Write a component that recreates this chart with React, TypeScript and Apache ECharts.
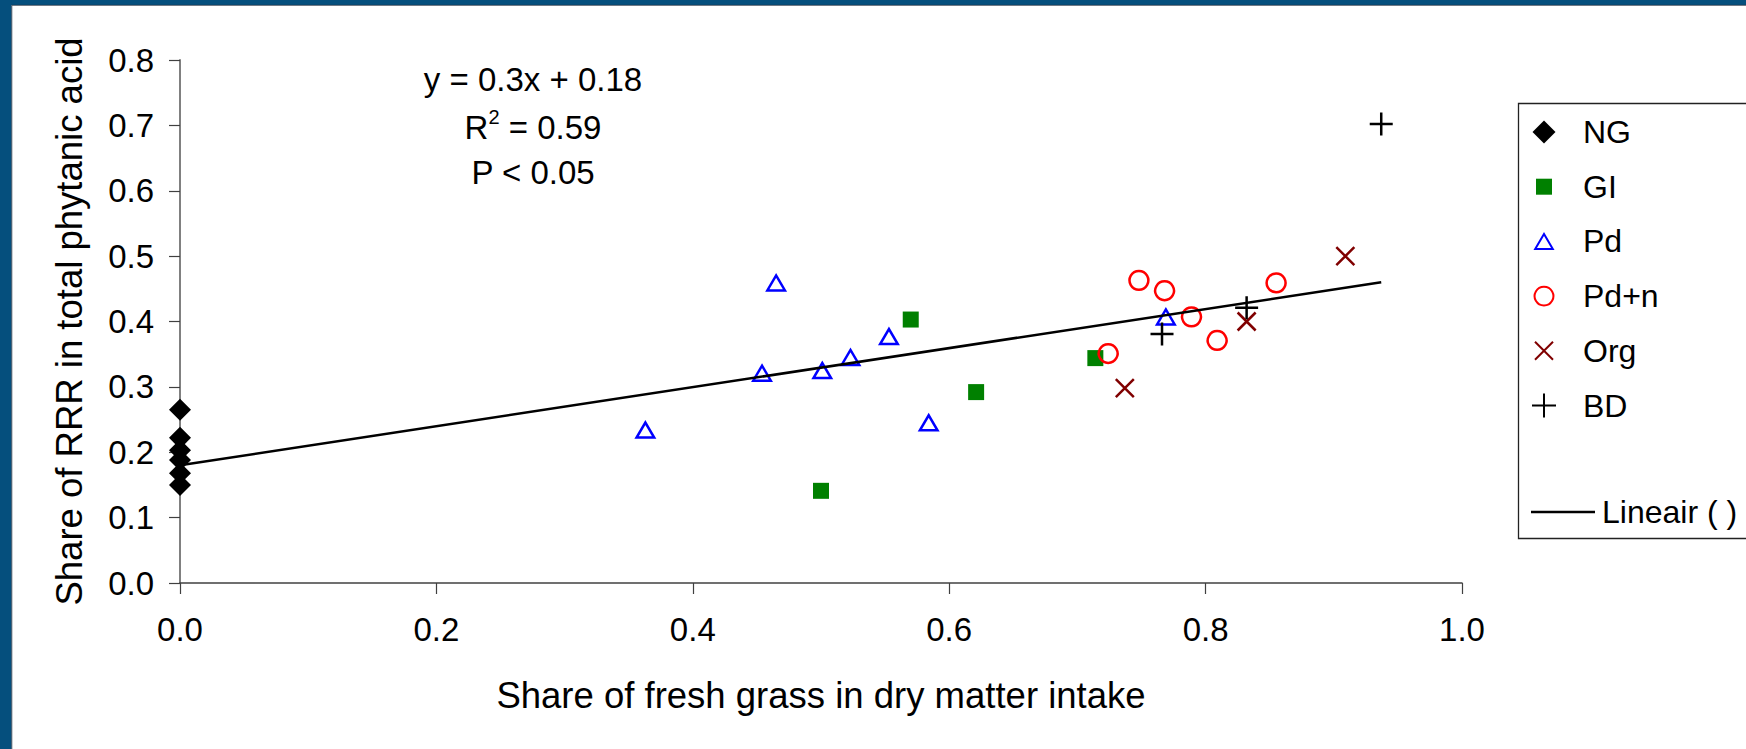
import React, { useEffect, useRef } from "react";
import * as echarts from "echarts";

// ---- data ----
const ngX = [0, 0, 0, 0, 0, 0];
const ngY = [0.265, 0.222, 0.203, 0.188, 0.168, 0.15];
const giX = [0.5, 0.57, 0.621, 0.714];
const giY = [0.141, 0.403, 0.292, 0.344];
const pdX = [0.363, 0.454, 0.465, 0.501, 0.523, 0.553, 0.584, 0.769];
const pdY = [0.234, 0.321, 0.459, 0.325, 0.345, 0.377, 0.245, 0.407];
const pdnX = [0.724, 0.748, 0.768, 0.789, 0.809, 0.855];
const pdnY = [0.351, 0.463, 0.447, 0.407, 0.371, 0.459];
const orgX = [0.737, 0.832, 0.909];
const orgY = [0.298, 0.4, 0.5];
const bdX = [0.766, 0.832, 0.937];
const bdY = [0.381, 0.421, 0.702];
const trendX = [0, 0.937];
const trendY = [0.18, 0.46];

const seriesNames = ["NG", "GI", "Pd", "Pd+n", "Org", "BD"];
const trendName = "Lineair ( )";
const xTitle = "Share of fresh grass in dry matter intake";
const yTitle = "Share of RRR in total phytanic acid";
const annotationLines = ["y = 0.3x + 0.18", "R{sup|2} = 0.59", "P < 0.05"];

const FONT = "'Liberation Sans', Arial, Helvetica, sans-serif";

const zip = (xs: number[], ys: number[]) => xs.map((x, i) => [x, ys[i]]);

// padded symbol paths (bounding box 0..24 kept via moveTo points)
const SYM_DIAMOND = "path://M0,0M24,24M12,0.5L23.5,12L12,23.5L0.5,12Z";
const SYM_SQUARE = "path://M0,0M24,24M4,4L20,4L20,20L4,20Z";
const SYM_TRI = "path://M0,0M24,24M3.2,19.5L20.8,19.5L12,4.5Z";
const SYM_CIRCLE = "path://M0,0M24,24M12,2.6A9.4,9.4,0,1,1,11.99,2.6Z";
const SYM_X = "path://M0,0M24,24M3,3L21,21M21,3L3,21";
const SYM_PLUS = "path://M12,0.5L12,23.5M0.5,12L23.5,12";

export default function App() {
  const ref = useRef<HTMLDivElement>(null);

  useEffect(() => {
    if (!ref.current) return;
    const chart = echarts.init(ref.current, undefined, { renderer: "svg" });

    const option: any = {
      animation: false,
      backgroundColor: "#ffffff",
      textStyle: { fontFamily: FONT },
      grid: { left: 180, right: 284, top: 60, bottom: 166, containLabel: false },
      xAxis: {
        type: "value",
        min: 0,
        max: 1,
        interval: 0.2,
        splitLine: { show: false },
        axisLine: { show: true, lineStyle: { color: "#404040", width: 1.5 } },
        axisTick: { show: true, inside: false, length: 11, lineStyle: { color: "#404040", width: 1.2 } },
        axisLabel: {
          fontSize: 33,
          color: "#000",
          fontFamily: FONT,
          margin: 30,
          formatter: (v: number) => v.toFixed(1),
        },
        name: xTitle,
        nameLocation: "middle",
        nameGap: 94,
        nameTextStyle: { fontSize: 36.5, color: "#000", fontFamily: FONT },
      },
      yAxis: {
        type: "value",
        min: 0,
        max: 0.8,
        interval: 0.1,
        splitLine: { show: false },
        axisLine: { show: true, lineStyle: { color: "#808080", width: 2 } },
        axisTick: { show: true, inside: false, length: 11, lineStyle: { color: "#404040", width: 1.2 } },
        axisLabel: {
          fontSize: 33,
          color: "#000",
          fontFamily: FONT,
          margin: 26,
          formatter: (v: number) => v.toFixed(1),
        },
        name: yTitle,
        nameLocation: "middle",
        nameGap: 92,
        nameTextStyle: { fontSize: 36.5, color: "#000", fontFamily: FONT },
      },
      legend: [
        {
          orient: "vertical",
          left: 1531,
          top: 116,
          padding: 0,
          itemWidth: 64,
          itemHeight: 24,
          itemGap: 22.7,
          data: seriesNames,
          textStyle: { fontSize: 32, lineHeight: 32, color: "#000", fontFamily: FONT, padding: [0, 0, 0, 2] },
        },
        {
          orient: "vertical",
          left: 1531,
          top: 496,
          padding: 0,
          itemWidth: 64,
          itemHeight: 2.5,
          data: [{ name: trendName, icon: "rect" }],
          itemStyle: { color: "#000" },
          textStyle: { fontSize: 32, lineHeight: 32, color: "#000", fontFamily: FONT, padding: [0, 0, 0, 2] },
        },
      ],
      series: [
        {
          name: seriesNames[0],
          type: "scatter",
          symbol: SYM_DIAMOND,
          symbolSize: 23,
          itemStyle: { color: "#000000", borderWidth: 0, opacity: 1 },
          data: zip(ngX, ngY),
          z: 3,
        },
        {
          name: seriesNames[1],
          type: "scatter",
          symbol: SYM_SQUARE,
          symbolSize: 24,
          itemStyle: { color: "#008000", borderWidth: 0, opacity: 1 },
          data: zip(giX, giY),
          z: 3,
        },
        {
          name: seriesNames[2],
          type: "scatter",
          symbol: SYM_TRI,
          symbolSize: 24,
          itemStyle: { color: "transparent", borderColor: "#0000ff", borderWidth: 2.5, opacity: 1 },
          data: zip(pdX, pdY),
          z: 3,
        },
        {
          name: seriesNames[3],
          type: "scatter",
          symbol: SYM_CIRCLE,
          symbolSize: 24,
          itemStyle: { color: "transparent", borderColor: "#ff0000", borderWidth: 2.5, opacity: 1 },
          data: zip(pdnX, pdnY),
          z: 3,
        },
        {
          name: seriesNames[4],
          type: "scatter",
          symbol: SYM_X,
          symbolSize: 24,
          itemStyle: { color: "transparent", borderColor: "#800000", borderWidth: 2.5, opacity: 1 },
          data: zip(orgX, orgY),
          z: 3,
        },
        {
          name: seriesNames[5],
          type: "scatter",
          symbol: SYM_PLUS,
          symbolSize: 23,
          itemStyle: { color: "transparent", borderColor: "#000000", borderWidth: 2.5, opacity: 1 },
          data: zip(bdX, bdY),
          z: 3,
        },
        {
          name: trendName,
          type: "line",
          symbol: "none",
          showSymbol: false,
          lineStyle: { color: "#000000", width: 2.5 },
          itemStyle: { color: "#000000" },
          data: zip(trendX, trendY),
          z: 4,
        },
      ],
      graphic: [
        // navy frame
        { type: "rect", left: 0, top: 0, shape: { x: 0, y: 0, width: 1746, height: 5 }, style: { fill: "#054f7d" }, z: 100 },
        { type: "rect", left: 0, top: 0, shape: { x: 0, y: 0, width: 11.5, height: 749 }, style: { fill: "#054f7d" }, z: 100 },
        {
          type: "line",
          shape: { x1: 11.8, y1: 5.3, x2: 11.8, y2: 749 },
          style: { stroke: "#1f2f3f", lineWidth: 0.8 },
          z: 100,
        },
        {
          type: "line",
          shape: { x1: 11.8, y1: 5.3, x2: 1746, y2: 5.3 },
          style: { stroke: "#1f2f3f", lineWidth: 0.8 },
          z: 100,
        },
        // legend box
        {
          type: "rect",
          shape: { x: 1518.5, y: 103.5, width: 300, height: 435 },
          style: { fill: "transparent", stroke: "#222", lineWidth: 1.3 },
          z: 50,
        },
        // annotation
        ...annotationLines.map((t, i) => ({
          type: "text",
          x: 533,
          y: [79, 127, 172][i],
          style: {
            text: t,
            fontSize: 33,
            lineHeight: 40,
            fontFamily: FONT,
            fill: "#000",
            align: "center",
            verticalAlign: "middle",
            rich: {
              sup: { fontSize: 20, lineHeight: 20, verticalAlign: "top", fontFamily: FONT, fill: "#000" },
            },
          },
          z: 60,
        })),
      ],
    };

    chart.setOption(option);
    return () => {
      chart.dispose();
    };
  }, []);

  return (
    <div
      ref={ref}
      style={{ position: "fixed", left: 0, top: 0, width: 1746, height: 749, background: "#fff" }}
    />
  );
}
